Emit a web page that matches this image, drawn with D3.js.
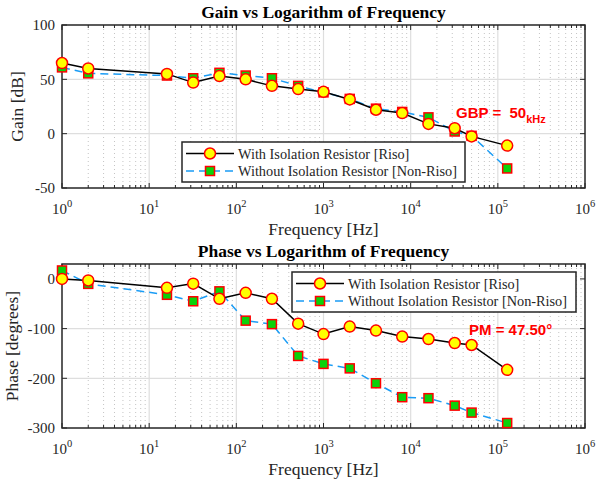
<!DOCTYPE html>
<html>

<head>
    <meta charset="utf-8" />
    <title>Gain and Phase vs Logarithm of Frequency</title>
    <style>
        body {
            margin: 0;
            background: #fff;
        }

        svg text {
            font-family: "Liberation Serif", "Times New Roman", serif;
            fill: #262626;
        }
    </style>
</head>

<body>
    <svg id="chart" width="596" height="485"></svg>
    <script src="https://cdn.jsdelivr.net/npm/d3@7"></script>
    <script>
        // data
        var freq = [1, 2, 16, 32, 64, 128, 256, 512, 1000, 2000, 4000, 8000, 16000, 32000, 50000, 128000];
        var gainRiso = [65, 60, 55, 47, 53, 50, 44, 41, 38.5, 31.5, 22, 19, 9, 5, -2.5, -11];
        var gainNonRiso = [61, 55.5, 53.5, 51, 56, 53.5, 51, 44, 38, 32, 23, 20, 15, 2, -2, -32];
        var phaseRiso = [0, -3, -18, -9.5, -40, -28, -40, -90, -111, -96, -104, -116, -121, -129, -133, -183];
        var phaseNonRiso = [17, -10, -32, -45, -25, -84, -91, -155, -171, -180, -210, -238, -240, -255, -269, -290];
        var decades = [0, 1, 2, 3, 4, 5, 6];
        var gainTicks = [-50, 0, 50, 100];
        var phaseTicks = [-300, -200, -100, 0];
        var legendLabels = ["With Isolation Resistor [Riso]", "Without Isolation Resistor [Non-Riso]"];

        var svg = d3.select("#chart");
        var left = 62, right = 585;

        var x = d3.scaleLog().domain([1, 1e6]).range([left, right]);

        var minor = [];
        decades.slice(0, -1).forEach(function(d) {
            for (var k = 2; k < 10; k++) minor.push(k * Math.pow(10, d));
        });

        function drawPanel(cfg) {
            var y = d3.scaleLinear().domain(cfg.ydomain).range([cfg.bottom, cfg.top]);
            var g = svg.append("g");

            // minor grid (x only)
            g.selectAll(".mg").data(minor).enter().append("line")
                .attr("x1", function(d) { return x(d); })
                .attr("x2", function(d) { return x(d); })
                .attr("y1", cfg.top).attr("y2", cfg.bottom)
                .attr("stroke", "#c4c4c4").attr("stroke-width", 1)
                .attr("stroke-dasharray", "1,3");

            // major grid
            g.selectAll(".gx").data(decades.slice(1, -1)).enter().append("line")
                .attr("x1", function(d) { return x(Math.pow(10, d)); })
                .attr("x2", function(d) { return x(Math.pow(10, d)); })
                .attr("y1", cfg.top).attr("y2", cfg.bottom)
                .attr("stroke", "#dedede").attr("stroke-width", 1.2);
            g.selectAll(".gy").data(cfg.yticks.slice(1, -1)).enter().append("line")
                .attr("x1", left).attr("x2", right)
                .attr("y1", function(d) { return y(d); })
                .attr("y2", function(d) { return y(d); })
                .attr("stroke", "#dedede").attr("stroke-width", 1.2);

            // ticks inside, all four sides
            var tk = g.append("g").attr("stroke", "#262626").attr("stroke-width", 1);
            decades.forEach(function(d) {
                var xx = x(Math.pow(10, d));
                tk.append("line").attr("x1", xx).attr("x2", xx).attr("y1", cfg.bottom).attr("y2", cfg.bottom - 5);
                tk.append("line").attr("x1", xx).attr("x2", xx).attr("y1", cfg.top).attr("y2", cfg.top + 5);
            });
            minor.forEach(function(m) {
                tk.append("line").attr("x1", x(m)).attr("x2", x(m)).attr("y1", cfg.bottom).attr("y2", cfg.bottom - 3);
                tk.append("line").attr("x1", x(m)).attr("x2", x(m)).attr("y1", cfg.top).attr("y2", cfg.top + 3);
            });
            cfg.yticks.forEach(function(v) {
                tk.append("line").attr("x1", left).attr("x2", left + 5).attr("y1", y(v)).attr("y2", y(v));
                tk.append("line").attr("x1", right).attr("x2", right - 5).attr("y1", y(v)).attr("y2", y(v));
            });

            // box
            g.append("rect").attr("x", left).attr("y", cfg.top)
                .attr("width", right - left).attr("height", cfg.bottom - cfg.top)
                .attr("fill", "none").attr("stroke", "#262626").attr("stroke-width", 1.5);

            // y tick labels
            g.selectAll(".yl").data(cfg.yticks).enter().append("text")
                .attr("x", 55).attr("y", function(d) { return y(d); })
                .attr("dy", "0.35em").attr("text-anchor", "end")
                .attr("font-size", "15px")
                .text(function(d) { return d; });

            // x tick labels 10^n
            decades.forEach(function(d) {
                var t = g.append("text").attr("x", x(Math.pow(10, d))).attr("y", cfg.bottom + 26)
                    .attr("text-anchor", "middle").attr("font-size", "15px");
                t.append("tspan").text("10");
                t.append("tspan").attr("dy", -7).attr("font-size", "10.5px").text(d);
            });

            g.append("text").attr("x", (left + right) / 2).attr("y", cfg.bottom + 47)
                .attr("text-anchor", "middle").attr("font-size", "17.5px")
                .text("Frequency [Hz]");

            g.append("text").attr("transform", "translate(" + cfg.ylabelX + "," + (cfg.top + cfg.bottom) / 2 + ") rotate(-90)")
                .attr("text-anchor", "middle").attr("font-size", "17.5px")
                .text(cfg.ylabel);

            g.append("text").attr("x", (left + right) / 2).attr("y", cfg.top - 7)
                .attr("text-anchor", "middle").attr("font-size", "17.5px")
                .attr("font-weight", "bold").style("fill", "#000")
                .text(cfg.title);

            // series
            var line = d3.line().x(function(d) { return x(d[0]); }).y(function(d) { return y(d[1]); });
            var nonData = d3.zip(freq, cfg.non);
            var risoData = d3.zip(freq, cfg.riso);

            g.append("path").datum(nonData).attr("d", line)
                .attr("fill", "none").attr("stroke", "#1a9cf5").attr("stroke-width", 1.5)
                .attr("stroke-dasharray", "8,5");
            g.append("path").datum(risoData).attr("d", line)
                .attr("fill", "none").attr("stroke", "#000").attr("stroke-width", 1.5);

            g.selectAll(".sq").data(nonData).enter().append("rect")
                .attr("x", function(d) { return x(d[0]) - 4.5; })
                .attr("y", function(d) { return y(d[1]) - 4.5; })
                .attr("width", 9).attr("height", 9)
                .attr("fill", "#0ad20a").attr("stroke", "#ff0000").attr("stroke-width", 1.5);
            g.selectAll(".ci").data(risoData).enter().append("circle")
                .attr("cx", function(d) { return x(d[0]); })
                .attr("cy", function(d) { return y(d[1]); })
                .attr("r", 5.5)
                .attr("fill", "#ffff00").attr("stroke", "#ff0000").attr("stroke-width", 1.5);

            // legend
            var L = cfg.legend;
            var lg = g.append("g").attr("transform", "translate(" + L.x + "," + L.y + ")");
            lg.append("rect").attr("width", L.w).attr("height", 40)
                .attr("fill", "#fff").attr("stroke", "#262626").attr("stroke-width", 1.5);
            [0, 1].forEach(function(i) {
                var ry = 11.5 + i * 17.5;
                lg.append("line").attr("x1", 4).attr("x2", 52).attr("y1", ry).attr("y2", ry)
                    .attr("stroke", i ? "#1a9cf5" : "#000").attr("stroke-width", 1.5)
                    .attr("stroke-dasharray", i ? "8,5" : null);
                if (i) {
                    lg.append("rect").attr("x", 23.5).attr("y", ry - 4.5).attr("width", 9).attr("height", 9)
                        .attr("fill", "#0ad20a").attr("stroke", "#ff0000").attr("stroke-width", 1.5);
                } else {
                    lg.append("circle").attr("cx", 28).attr("cy", ry).attr("r", 5.5)
                        .attr("fill", "#ffff00").attr("stroke", "#ff0000").attr("stroke-width", 1.5);
                }
                lg.append("text").attr("x", 56).attr("y", ry).attr("dy", "0.35em")
                    .attr("font-size", "14.3px").text(legendLabels[i]);
            });

            return g;
        }

        var gainPanel = drawPanel({
            top: 25, bottom: 188, ydomain: [-50, 100], yticks: gainTicks,
            riso: gainRiso, non: gainNonRiso,
            title: "Gain vs Logarithm of Frequency", ylabel: "Gain [dB]", ylabelX: 23,
            legend: { x: 182, y: 142, w: 283 }
        });
        var gbp = gainPanel.append("text").attr("x", 456).attr("y", 118)
            .attr("font-size", "15px").attr("font-weight", "bold")
            .style("font-family", "'Liberation Sans', Arial, sans-serif").style("fill", "#ff0000")
            .attr("xml:space", "preserve");
        gbp.append("tspan").text("GBP =  50");
        gbp.append("tspan").attr("dy", 5).attr("font-size", "11px").text("kHz");

        var phasePanel = drawPanel({
            top: 264, bottom: 428, ydomain: [-300, 30], yticks: phaseTicks,
            riso: phaseRiso, non: phaseNonRiso,
            title: "Phase vs Logarithm of Frequency", ylabel: "Phase [degrees]", ylabelX: 18,
            legend: { x: 292, y: 272, w: 284 }
        });
        phasePanel.append("text").attr("x", 469).attr("y", 335)
            .attr("font-size", "15px").attr("font-weight", "bold")
            .style("font-family", "'Liberation Sans', Arial, sans-serif").style("fill", "#ff0000")
            .text("PM = 47.50°");
    </script>
</body>

</html>
